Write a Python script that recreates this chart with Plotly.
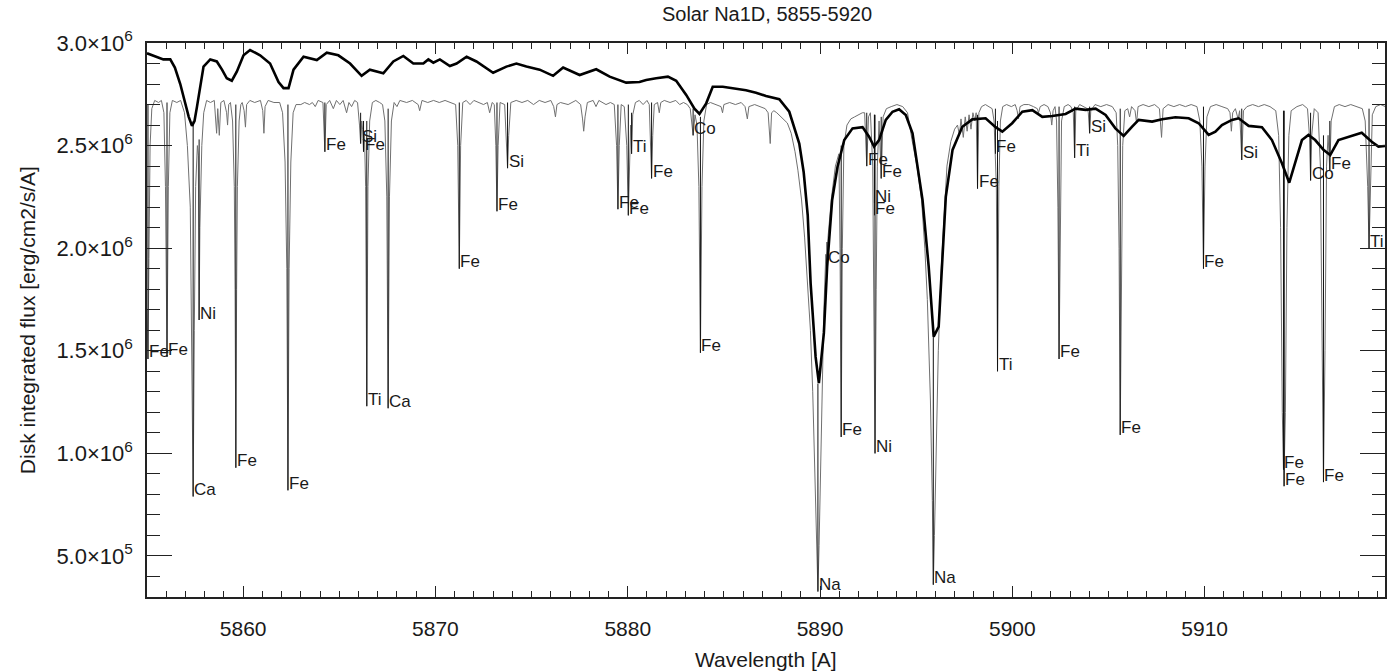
import plotly.graph_objects as go

# ---------------- data (flux in units of 1e6 erg/cm2/s/A) ----------------
# high-resolution (thin) spectrum
thin_points = [
    (5855.00, 1.70), (5855.05, 1.46), (5855.10, 1.95), (5855.16, 2.50), (5855.25, 2.68), (5855.40, 2.72), (5855.60, 2.71),
    (5855.75, 2.72), (5855.88, 2.66), (5855.96, 2.30), (5856.04, 1.47), (5856.11, 2.30), (5856.19, 2.66), (5856.32, 2.72),
    (5856.55, 2.71), (5856.75, 2.72), (5856.95, 2.66), (5857.10, 2.50), (5857.25, 2.20), (5857.33, 1.60), (5857.40, 0.79),
    (5857.46, 1.60), (5857.53, 2.30), (5857.62, 2.50), (5857.67, 2.45), (5857.71, 1.65), (5857.75, 2.10), (5857.85, 2.50),
    (5857.95, 2.66), (5858.10, 2.72), (5858.30, 2.71), (5858.50, 2.72), (5858.62, 2.56), (5858.68, 2.68), (5858.76, 2.55),
    (5858.84, 2.71), (5859.00, 2.72), (5859.14, 2.66), (5859.19, 2.60), (5859.25, 2.70), (5859.34, 2.71),
    (5859.45, 2.62), (5859.54, 2.30), (5859.58, 1.80), (5859.62, 0.93), (5859.66, 1.80), (5859.70, 2.30), (5859.79, 2.62),
    (5859.88, 2.70), (5859.95, 2.71), (5860.05, 2.67), (5860.12, 2.59), (5860.18, 2.70), (5860.35, 2.72), (5860.60, 2.71),
    (5860.90, 2.72), (5861.02, 2.67), (5861.08, 2.56), (5861.14, 2.69), (5861.30, 2.72), (5861.60, 2.71),
    (5861.90, 2.71), (5862.05, 2.66), (5862.18, 2.42), (5862.27, 1.90), (5862.33, 0.82), (5862.39, 1.90), (5862.48, 2.42),
    (5862.60, 2.66), (5862.75, 2.70), (5863.00, 2.70), (5863.20, 2.71), (5863.45, 2.70), (5863.60, 2.71), (5863.75, 2.69),
    (5863.90, 2.72), (5864.15, 2.71), (5864.25, 2.47), (5864.32, 2.70), (5864.50, 2.72), (5864.69, 2.68), (5864.85, 2.72),
    (5865.03, 2.70), (5865.20, 2.72), (5865.38, 2.66), (5865.50, 2.71), (5865.64, 2.69), (5865.80, 2.72),
    (5865.95, 2.71), (5866.05, 2.60), (5866.11, 2.51), (5866.17, 2.62), (5866.21, 2.58), (5866.26, 2.47), (5866.31, 2.55),
    (5866.37, 2.30), (5866.43, 1.23), (5866.49, 2.30), (5866.58, 2.62), (5866.72, 2.71),
    (5866.90, 2.72), (5867.10, 2.71), (5867.25, 2.70), (5867.37, 2.62), (5867.47, 2.25), (5867.54, 1.22), (5867.61, 2.25),
    (5867.71, 2.62), (5867.85, 2.71), (5868.00, 2.69), (5868.15, 2.72), (5868.50, 2.71), (5868.80, 2.72), (5869.10, 2.70),
    (5869.18, 2.67), (5869.30, 2.72), (5869.60, 2.71), (5869.90, 2.72), (5870.20, 2.71), (5870.50, 2.72), (5870.80, 2.71),
    (5871.05, 2.70), (5871.16, 2.50), (5871.24, 1.90), (5871.31, 2.50), (5871.42, 2.71),
    (5871.60, 2.72), (5871.80, 2.70), (5872.00, 2.72), (5872.30, 2.71), (5872.50, 2.70), (5872.70, 2.71), (5872.82, 2.66),
    (5872.95, 2.71), (5873.06, 2.70), (5873.14, 2.50), (5873.20, 2.18), (5873.26, 2.50), (5873.36, 2.71),
    (5873.60, 2.70), (5873.69, 2.55), (5873.75, 2.39), (5873.81, 2.55), (5873.92, 2.71),
    (5874.20, 2.72), (5874.50, 2.71), (5874.80, 2.72), (5875.10, 2.70), (5875.40, 2.72), (5875.70, 2.71), (5876.00, 2.72),
    (5876.15, 2.69), (5876.24, 2.64), (5876.32, 2.70), (5876.50, 2.71), (5876.90, 2.70), (5877.30, 2.72), (5877.55, 2.70),
    (5877.65, 2.63), (5877.71, 2.57), (5877.78, 2.64), (5877.90, 2.71), (5878.20, 2.72), (5878.35, 2.69), (5878.50, 2.72),
    (5878.87, 2.70), (5879.10, 2.71),
    (5879.30, 2.70), (5879.42, 2.50), (5879.49, 2.19), (5879.56, 2.50), (5879.66, 2.70), (5879.82, 2.69), (5879.95, 2.50),
    (5880.03, 2.16), (5880.10, 2.50), (5880.15, 2.60), (5880.20, 2.46), (5880.26, 2.65), (5880.40, 2.71),
    (5880.60, 2.72), (5880.80, 2.70), (5881.00, 2.72), (5881.12, 2.70), (5881.18, 2.55), (5881.24, 2.34), (5881.30, 2.55),
    (5881.38, 2.70), (5881.55, 2.71), (5881.64, 2.66), (5881.72, 2.71), (5881.90, 2.72), (5882.20, 2.71), (5882.50, 2.72),
    (5882.70, 2.70), (5882.90, 2.71), (5883.10, 2.70),
    (5883.25, 2.68), (5883.40, 2.55), (5883.50, 2.65), (5883.60, 2.60), (5883.70, 2.30), (5883.78, 1.49), (5883.86, 2.30),
    (5883.96, 2.62), (5884.10, 2.70), (5884.30, 2.71), (5884.60, 2.70), (5884.85, 2.69), (5884.93, 2.66), (5885.00, 2.70),
    (5885.30, 2.71), (5885.60, 2.70), (5885.90, 2.71), (5886.10, 2.69), (5886.22, 2.63), (5886.30, 2.69), (5886.60, 2.70),
    (5886.90, 2.69), (5887.15, 2.68), (5887.30, 2.66), (5887.41, 2.51), (5887.48, 2.66), (5887.60, 2.67),
    (5887.75, 2.66), (5887.95, 2.64), (5888.10, 2.63), (5888.30, 2.61), (5888.50, 2.56), (5888.70, 2.47), (5888.85, 2.38),
    (5889.04, 2.235), (5889.20, 2.05), (5889.35, 1.85), (5889.50, 1.60), (5889.62, 1.30), (5889.74, 0.80), (5889.89, 0.33),
    (5889.95, 0.55), (5890.02, 0.90), (5890.10, 1.30), (5890.20, 1.70), (5890.30, 1.97), (5890.36, 1.92), (5890.42, 2.06),
    (5890.60, 2.25), (5890.80, 2.40), (5890.98, 2.46), (5891.04, 2.00), (5891.10, 1.08), (5891.16, 2.00), (5891.24, 2.50),
    (5891.40, 2.60), (5891.60, 2.63), (5891.80, 2.64), (5892.00, 2.65), (5892.20, 2.66),
    (5892.32, 2.66), (5892.43, 2.40), (5892.52, 2.64), (5892.62, 2.66), (5892.74, 2.40), (5892.80, 1.80), (5892.86, 1.00),
    (5892.92, 1.80), (5892.98, 2.40), (5893.07, 2.62), (5893.18, 2.34), (5893.28, 2.64), (5893.45, 2.68), (5893.70, 2.69),
    (5894.00, 2.70), (5894.30, 2.69), (5894.55, 2.66), (5894.78, 2.53), (5895.04, 2.40), (5895.28, 2.235), (5895.45, 2.00),
    (5895.58, 1.75), (5895.74, 1.26), (5895.84, 0.77), (5895.89, 0.36),
    (5895.95, 0.60), (5896.02, 0.95), (5896.15, 1.50), (5896.30, 1.90), (5896.48, 2.235), (5896.60, 2.40), (5896.80, 2.52),
    (5897.00, 2.58), (5897.15, 2.60), (5897.25, 2.55), (5897.33, 2.63), (5897.45, 2.54), (5897.55, 2.64), (5897.65, 2.57),
    (5897.75, 2.65), (5897.85, 2.58), (5897.95, 2.66), (5898.05, 2.62), (5898.12, 2.66), (5898.19, 2.29), (5898.26, 2.66),
    (5898.40, 2.69), (5898.60, 2.70), (5898.80, 2.69), (5898.95, 2.68),
    (5899.05, 2.62), (5899.12, 2.46), (5899.17, 2.30), (5899.23, 1.40), (5899.30, 2.30), (5899.38, 2.62), (5899.50, 2.69),
    (5899.70, 2.70), (5899.95, 2.69), (5900.15, 2.70), (5900.25, 2.67), (5900.32, 2.63), (5900.40, 2.69), (5900.60, 2.70),
    (5900.85, 2.70), (5901.10, 2.69), (5901.30, 2.68), (5901.36, 2.66), (5901.45, 2.69), (5901.65, 2.70), (5901.85, 2.69),
    (5901.98, 2.66), (5902.05, 2.60), (5902.12, 2.67), (5902.22, 2.69),
    (5902.30, 2.62), (5902.37, 2.20), (5902.43, 1.46), (5902.49, 2.20), (5902.56, 2.62), (5902.70, 2.69), (5902.90, 2.70),
    (5903.05, 2.69), (5903.17, 2.66), (5903.24, 2.44), (5903.30, 2.67), (5903.50, 2.70), (5903.70, 2.69), (5903.90, 2.68),
    (5903.95, 2.66), (5904.02, 2.56), (5904.08, 2.67), (5904.30, 2.70), (5904.60, 2.69), (5904.90, 2.70), (5905.20, 2.69),
    (5905.40, 2.66), (5905.48, 2.50), (5905.55, 2.00), (5905.61, 1.09), (5905.67, 2.00), (5905.74, 2.50), (5905.85, 2.67),
    (5906.00, 2.68), (5906.10, 2.64), (5906.20, 2.69), (5906.38, 2.67), (5906.46, 2.61), (5906.54, 2.69), (5906.80, 2.70),
    (5907.10, 2.69), (5907.40, 2.70), (5907.65, 2.68), (5907.76, 2.54), (5907.84, 2.68), (5908.10, 2.70), (5908.40, 2.69),
    (5908.70, 2.70), (5909.00, 2.69), (5909.30, 2.70), (5909.60, 2.69), (5909.75, 2.62),
    (5909.86, 2.40), (5909.94, 1.90), (5910.02, 2.40), (5910.12, 2.64), (5910.30, 2.69), (5910.60, 2.70), (5910.90, 2.69),
    (5911.20, 2.68), (5911.32, 2.66), (5911.39, 2.57), (5911.46, 2.66), (5911.60, 2.68), (5911.74, 2.63), (5911.82, 2.67),
    (5911.93, 2.43), (5912.02, 2.67), (5912.20, 2.69), (5912.50, 2.70), (5912.80, 2.69), (5913.10, 2.70), (5913.40, 2.69),
    (5913.70, 2.67), (5913.85, 2.55), (5913.95, 2.10), (5914.04, 1.20), (5914.12, 0.84), (5914.20, 1.20), (5914.28, 2.10),
    (5914.38, 2.55), (5914.50, 2.67), (5914.80, 2.69), (5915.10, 2.70), (5915.35, 2.68), (5915.45, 2.55), (5915.51, 2.33),
    (5915.57, 2.55), (5915.70, 2.68), (5915.90, 2.66), (5916.02, 2.40), (5916.10, 1.50), (5916.18, 0.86), (5916.26, 1.50),
    (5916.34, 2.40), (5916.42, 2.55), (5916.51, 2.38), (5916.58, 2.62), (5916.75, 2.69), (5917.00, 2.70), (5917.30, 2.69),
    (5917.60, 2.70), (5917.90, 2.69), (5918.20, 2.68), (5918.35, 2.62), (5918.48, 2.30), (5918.55, 2.00), (5918.62, 2.30),
    (5918.72, 2.65), (5918.90, 2.69), (5919.15, 2.70), (5919.40, 2.69),
]

# low-resolution (thick) disk-integrated spectrum
thick_points = [
    (5855.00, 2.95), (5855.40, 2.935), (5855.69, 2.925), (5855.85, 2.92), (5856.21, 2.92), (5856.45, 2.88), (5856.73, 2.80),
    (5857.00, 2.70), (5857.17, 2.64), (5857.34, 2.596), (5857.47, 2.62), (5857.60, 2.69), (5857.77, 2.80), (5857.94, 2.885),
    (5858.29, 2.92), (5858.63, 2.91), (5858.90, 2.87), (5859.15, 2.828), (5859.41, 2.816), (5859.67, 2.86), (5860.02, 2.94),
    (5860.36, 2.966), (5860.88, 2.94), (5861.40, 2.90), (5861.84, 2.81), (5862.10, 2.78), (5862.36, 2.78), (5862.62, 2.87),
    (5863.14, 2.933), (5863.83, 2.917), (5864.35, 2.953), (5864.95, 2.94), (5865.56, 2.90), (5866.16, 2.84), (5866.59, 2.87),
    (5867.29, 2.852), (5867.81, 2.91), (5868.33, 2.937), (5868.85, 2.90), (5869.37, 2.90), (5869.63, 2.92), (5869.89, 2.904),
    (5870.23, 2.92), (5870.75, 2.888), (5871.10, 2.90), (5871.62, 2.933), (5872.13, 2.91), (5873.00, 2.855), (5873.69, 2.885),
    (5874.21, 2.90), (5874.73, 2.885), (5875.42, 2.87), (5876.12, 2.84), (5876.64, 2.88), (5877.50, 2.844), (5878.36, 2.872),
    (5879.06, 2.836), (5879.92, 2.807), (5880.61, 2.81), (5880.96, 2.82), (5881.48, 2.828), (5882.09, 2.836), (5882.52, 2.816),
    (5883.04, 2.747), (5883.47, 2.68), (5883.73, 2.654), (5884.08, 2.706), (5884.42, 2.787), (5884.94, 2.787), (5885.46, 2.78),
    (5886.15, 2.77), (5886.67, 2.758), (5887.19, 2.742), (5887.88, 2.726), (5888.40, 2.665), (5888.92, 2.51), (5889.15, 2.37),
    (5889.36, 2.16), (5889.51, 1.83), (5889.77, 1.47), (5889.94, 1.342), (5890.20, 1.587), (5890.37, 1.91), (5890.63, 2.235),
    (5890.91, 2.397), (5891.26, 2.527), (5891.69, 2.584), (5892.21, 2.59), (5892.55, 2.543), (5892.81, 2.495), (5893.07, 2.527),
    (5893.42, 2.625), (5893.77, 2.665), (5894.11, 2.677), (5894.46, 2.649), (5894.81, 2.56), (5895.07, 2.397), (5895.33, 2.235),
    (5895.65, 1.91), (5895.91, 1.569), (5896.17, 1.618), (5896.35, 1.91), (5896.54, 2.25), (5896.89, 2.479), (5897.40, 2.592),
    (5897.92, 2.628), (5898.61, 2.633), (5899.13, 2.59), (5899.48, 2.568), (5899.99, 2.609), (5900.52, 2.665), (5901.04, 2.673),
    (5901.56, 2.64), (5902.08, 2.644), (5902.77, 2.654), (5903.29, 2.68), (5903.81, 2.674), (5904.33, 2.68), (5904.85, 2.649),
    (5905.36, 2.584), (5905.79, 2.547), (5906.23, 2.592), (5906.57, 2.625), (5907.27, 2.617), (5907.79, 2.628), (5908.48, 2.638),
    (5909.17, 2.633), (5909.69, 2.609), (5910.21, 2.552), (5910.56, 2.568), (5910.90, 2.60), (5911.42, 2.625), (5911.77, 2.633),
    (5912.29, 2.596), (5912.98, 2.59), (5913.50, 2.527), (5914.02, 2.414), (5914.40, 2.319), (5914.71, 2.414), (5915.06, 2.527),
    (5915.40, 2.552), (5915.75, 2.527), (5916.18, 2.479), (5916.53, 2.454), (5916.96, 2.527), (5917.48, 2.543), (5918.17, 2.563),
    (5918.69, 2.519), (5919.04, 2.495), (5919.38, 2.498),
]

# identified lines: element, wavelength [A], line bottom (label level), flux where the marker starts
line_names = ["Fe", "Fe", "Ni", "Ca", "Fe", "Fe", "Fe", "Si", "Fe", "Ti", "Ca", "Fe", "Fe", "Si", "Fe",
              "Fe", "Ti", "Fe", "Co", "Fe", "Na", "Co", "Fe", "Fe", "Ni", "Fe", "Ni", "Fe", "Na", "Fe",
              "Fe", "Ti", "Fe", "Ti", "Si", "Fe", "Fe", "Si", "Fe", "Fe", "Co", "Fe", "Fe", "Ti"]
line_wl = [5855.05, 5856.04, 5857.71, 5857.40, 5859.62, 5862.33, 5864.25, 5866.11, 5866.26, 5866.43, 5867.54,
           5871.24, 5873.20, 5873.75, 5879.49, 5880.03, 5880.20, 5881.24, 5883.40, 5883.78, 5889.89, 5890.36,
           5891.10, 5892.43, 5892.83, 5892.83, 5892.86, 5893.18, 5895.89, 5898.19, 5899.12, 5899.23, 5902.43,
           5903.24, 5904.02, 5905.61, 5909.94, 5911.93, 5914.10, 5914.14, 5915.51, 5916.18, 5916.51, 5918.55]
line_depth = [1.46, 1.47, 1.65, 0.79, 0.93, 0.82, 2.47, 2.51, 2.47, 1.23, 1.22,
              1.90, 2.18, 2.39, 2.19, 2.16, 2.46, 2.34, 2.55, 1.49, 0.325, 1.92,
              1.08, 2.40, 2.22, 2.16, 1.00, 2.34, 0.36, 2.29, 2.46, 1.40, 1.46,
              2.44, 2.56, 1.09, 1.90, 2.43, 0.92, 0.84, 2.33, 0.86, 2.38, 2.00]
line_top = [2.70, 2.71, 2.53, 2.62, 2.70, 2.70, 2.71, 2.66, 2.62, 2.62, 2.68,
            2.71, 2.71, 2.71, 2.70, 2.70, 2.66, 2.71, 2.68, 2.64, 1.34, 2.03,
            2.50, 2.66, 2.65, 2.65, 2.65, 2.64, 1.57, 2.65, 2.68, 2.62, 2.69,
            2.69, 2.69, 2.68, 2.69, 2.68, 2.67, 2.67, 2.66, 2.55, 2.62, 2.68]

y_tick_vals = [0.5, 1.0, 1.5, 2.0, 2.5, 3.0]
y_tick_text = ["5.0×10<sup>5</sup>", "1.0×10<sup>6</sup>", "1.5×10<sup>6</sup>",
               "2.0×10<sup>6</sup>", "2.5×10<sup>6</sup>", "3.0×10<sup>6</sup>"]
x_tick_vals = [5860, 5870, 5880, 5890, 5900, 5910]

# ---------------- figure ----------------
FONT = "Liberation Sans, Arial, Helvetica, sans-serif"
thin_wl = [p[0] for p in thin_points]
thin_fx = [p[1] for p in thin_points]
thick_wl = [p[0] for p in thick_points]
thick_fx = [p[1] for p in thick_points]

mark_x, mark_y = [], []
for w, top, bot in zip(line_wl, line_top, line_depth):
    mark_x += [w, w, None]
    mark_y += [top, bot, None]

fig = go.Figure()
fig.add_trace(go.Scatter(x=thin_wl, y=thin_fx, mode="lines",
                         line=dict(color="#707070", width=1), name="high resolution", showlegend=False))
fig.add_trace(go.Scatter(x=mark_x, y=mark_y, mode="lines",
                         line=dict(color="#111111", width=1), name="line markers", showlegend=False))
fig.add_trace(go.Scatter(x=thick_wl, y=thick_fx, mode="lines",
                         line=dict(color="#000000", width=2.6), name="disk integrated", showlegend=False))

for name, w, d in zip(line_names, line_wl, line_depth):
    fig.add_annotation(x=w, y=d, text=name, showarrow=False, xanchor="left", yanchor="middle",
                       yshift=7, xshift=-1, font=dict(family=FONT, size=17, color="#1a1a1a"))

# axis titles
fig.add_annotation(xref="paper", yref="paper", x=0.5, y=-0.1137, text="Wavelength [A]", showarrow=False,
                   xanchor="center", yanchor="middle", font=dict(family=FONT, size=21, color="#1a1a1a"))
fig.add_annotation(xref="paper", yref="paper", x=-0.0968, y=0.5, text="Disk integrated flux [erg/cm2/s/A]",
                   showarrow=False, textangle=-90, xanchor="center", yanchor="middle",
                   font=dict(family=FONT, size=21, color="#1a1a1a"))

axis_common = dict(showgrid=False, zeroline=False, showline=True, linecolor="#222", linewidth=1.5,
                   mirror="ticks", ticks="inside", tickcolor="#222")

fig.update_xaxes(range=[5855, 5919.38], tickmode="array", tickvals=x_tick_vals,
                 ticklen=11, tickwidth=1.3, ticklabelstandoff=12,
                 tickfont=dict(family=FONT, size=21, color="#1a1a1a"),
                 minor=dict(tickmode="linear", tick0=5855, dtick=1, ticks="inside", ticklen=6,
                            tickcolor="#222", tickwidth=1),
                 **axis_common)
fig.update_yaxes(range=[0.3, 3.0], tickmode="array", tickvals=y_tick_vals, ticktext=y_tick_text,
                 ticklen=25, tickwidth=1.3, ticklabelstandoff=8,
                 tickfont=dict(family=FONT, size=22, color="#1a1a1a"),
                 minor=dict(tickmode="linear", tick0=0, dtick=0.1, ticks="inside", ticklen=13,
                            tickcolor="#222", tickwidth=1),
                 **axis_common)

fig.update_layout(
    width=1387, height=671,
    margin=dict(l=147, r=0, t=43, b=74),
    paper_bgcolor="white", plot_bgcolor="white",
    title=dict(text="Solar Na1D, 5855-5920", x=767 / 1387, xanchor="center", y=1 - 14 / 671,
               yanchor="middle", font=dict(family=FONT, size=20, color="#1a1a1a")),
    showlegend=False,
)

fig.write_html("out.html")
